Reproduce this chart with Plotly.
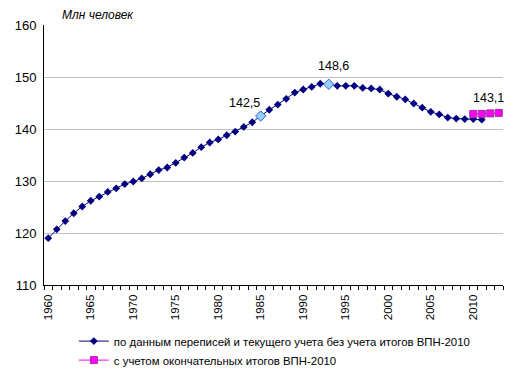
import plotly.graph_objects as go

years = list(range(1960, 2012))
pop_old = [119.0, 120.7, 122.3, 123.8, 125.1, 126.2, 127.0, 127.9, 128.6, 129.4,
           129.9, 130.5, 131.3, 132.1, 132.6, 133.5, 134.5, 135.4, 136.5, 137.4,
           138.0, 138.8, 139.5, 140.4, 141.3, 142.5, 143.7, 144.7, 145.8, 147.0,
           147.6, 148.1, 148.7, 148.6, 148.3, 148.3, 148.3, 147.9, 147.8, 147.6,
           146.8, 146.2, 145.7, 144.9, 144.1, 143.3, 142.8, 142.2, 142.0, 141.9,
           141.9, 141.8]
years_new = [2010, 2011, 2012, 2013]
pop_new = [142.9, 142.9, 143.0, 143.1]
highlight_years = [1985, 1993]
highlight_vals = [pop_old[years.index(y)] for y in highlight_years]

name_old = "по данным переписей и текущего учета без учета итогов ВПН-2010"
name_new = "с учетом окончательных итогов ВПН-2010"
y_ticks = [110, 120, 130, 140, 150, 160]
x_ticks = list(range(1960, 2011, 5))

font_family = "Liberation Sans, Arial, sans-serif"

fig = go.Figure()
fig.add_trace(go.Scatter(
    x=years, y=pop_old, mode="lines+markers", name=name_old,
    line=dict(color="#000080", width=1),
    marker=dict(symbol="diamond", size=6, color="#000080"),
    cliponaxis=False,
))
fig.add_trace(go.Scatter(
    x=highlight_years, y=highlight_vals, mode="markers", showlegend=False,
    marker=dict(symbol="diamond", size=8, color="#99CCFF",
                line=dict(color="#3366CC", width=1)),
    cliponaxis=False,
))
fig.add_trace(go.Scatter(
    x=years_new, y=pop_new, mode="lines+markers", name=name_new,
    line=dict(color="#FF00FF", width=1),
    marker=dict(symbol="square", size=7, color="#FF00FF",
                line=dict(color="#993399", width=1)),
    cliponaxis=False,
))

def fmt(v):
    return f"{v:.1f}".replace(".", ",")

labels = [
    (highlight_years[0], highlight_vals[0], -16, 13),
    (highlight_years[1], highlight_vals[1], 5, 18),
    (years_new[-1], pop_new[-1], -10, 15),
]
for x, y, dx, dy in labels:
    fig.add_annotation(x=x, y=y, text=fmt(y), showarrow=False,
                       xshift=dx, yshift=dy,
                       font=dict(size=12.5, color="black", family=font_family))

fig.add_annotation(xref="paper", yref="paper", x=0.035, y=1.0, yshift=10,
                   xanchor="left", yanchor="middle", text="<i>Млн человек</i>",
                   showarrow=False,
                   font=dict(size=12, color="black", family=font_family))

# the page body adds an 8 px offset; size the figure to fill the rest
fig.update_layout(
    width=509, height=367,
    margin=dict(l=36, r=14, t=17, b=90, autoexpand=False),
    paper_bgcolor="white", plot_bgcolor="white",
    font=dict(family=font_family, size=12, color="black"),
    showlegend=True,
    legend=dict(orientation="v", x=0.065, xanchor="left", y=-0.16, yanchor="top",
                font=dict(size=11.4, family=font_family),
                itemwidth=30, tracegroupgap=0, bgcolor="rgba(0,0,0,0)"),
    xaxis=dict(
        range=[1959.5, 2013.5], tickmode="array", tickvals=x_ticks,
        ticktext=[str(v) for v in x_ticks], tickangle=-90,
        ticks="", showgrid=False, zeroline=False, automargin=False,
        showline=True, linecolor="black", linewidth=1,
        tickfont=dict(size=11.5, family=font_family),
        ticklabelstandoff=4,
        minor=dict(ticks="outside", tick0=1959.5, dtick=1, ticklen=4,
                   tickcolor="black", showgrid=False),
    ),
    yaxis=dict(
        range=[110, 160], tickmode="array", tickvals=y_ticks,
        showgrid=True, gridcolor="#C0C0C0", gridwidth=1, zeroline=False,
        showline=True, linecolor="black", linewidth=1, automargin=False,
        ticks="", ticklen=0, ticklabelstandoff=4,
        tickfont=dict(size=13, family=font_family),
    ),
)

fig.write_html("out.html")
